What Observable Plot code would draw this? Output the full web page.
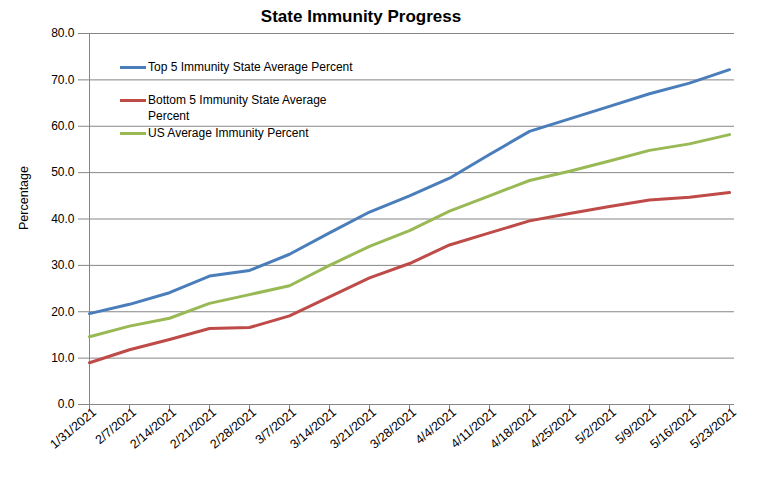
<!DOCTYPE html>
<html>
<head>
<meta charset="utf-8">
<script src="https://cdn.jsdelivr.net/npm/d3@7"></script>
<script src="https://cdn.jsdelivr.net/npm/@observablehq/plot@0.6"></script>
<style>
  body { margin: 0; background: #fff; }
  #wrap { position: relative; width: 761px; height: 479px; font-family: "Liberation Sans", Arial, sans-serif; }
  #title { position: absolute; left: 0; width: 722px; top: 7px; text-align: center; font-weight: bold; font-size: 17px; color: #000; }
  #ylab { position: absolute; left: 24px; top: 198px; transform: translate(-50%, -50%) rotate(-90deg); font-size: 12.5px; white-space: nowrap; }
  .leg { position: absolute; left: 120px; font-size: 12px; line-height: 16px; color: #000; }
  .leg span.sw { position: absolute; left: 0; top: 7px; width: 26px; height: 3px; }
  .leg span.tx { display: block; margin-left: 28px; white-space: nowrap; }
</style>
</head>
<body>
<div id="wrap">
  <div id="title">State Immunity Progress</div>
  <div id="ylab">Percentage</div>
  <div id="legend"></div>
</div>
<script>
const dates = ["1/31/2021","2/7/2021","2/14/2021","2/21/2021","2/28/2021","3/7/2021","3/14/2021","3/21/2021","3/28/2021","4/4/2021","4/11/2021","4/18/2021","4/25/2021","5/2/2021","5/9/2021","5/16/2021","5/23/2021"];
const top5    = [19.6, 21.6, 24.1, 27.7, 28.9, 32.4, 37.0, 41.5, 45.0, 48.8, 53.9, 58.9, 61.6, 64.3, 67.0, 69.3, 72.2];
const bottom5 = [9.0, 11.8, 14.0, 16.4, 16.6, 19.1, 23.2, 27.3, 30.4, 34.4, 37.0, 39.6, 41.2, 42.7, 44.1, 44.7, 45.7];
const usAvg   = [14.6, 16.9, 18.6, 21.8, 23.7, 25.6, 30.0, 34.1, 37.5, 41.7, 45.0, 48.3, 50.3, 52.5, 54.8, 56.2, 58.2];
const seriesNames = ["Top 5 Immunity State Average Percent", "Bottom 5 Immunity State Average Percent", "US Average Immunity Percent"];
const seriesColors = ["#4A7EBB", "#BE4B48", "#98B954"];
const yTicks = [0, 10, 20, 30, 40, 50, 60, 70, 80];

const rows = [];
[top5, bottom5, usAvg].forEach((arr, si) => {
  arr.forEach((v, i) => rows.push({date: dates[i], value: v, series: seriesNames[si]}));
});

const gray = "#868686";
const chart = Plot.plot({
  width: 761,
  height: 479,
  marginLeft: 84,
  marginRight: 27,
  marginTop: 33,
  marginBottom: 75,
  style: { fontFamily: "Liberation Sans, Arial, sans-serif", background: "#fff", color: "#000" },
  x: { type: "point", domain: dates, padding: 0 },
  y: { domain: [0, 80] },
  color: { domain: seriesNames, range: seriesColors },
  marks: [
    Plot.ruleY(yTicks, { stroke: gray, strokeWidth: 1, strokeOpacity: 1 }),
    Plot.ruleX([dates[0]], { stroke: gray, strokeWidth: 1 }),
    Plot.axisY({ ticks: yTicks, tickFormat: d => d.toFixed(1), tickSize: 6, tickPadding: 4, stroke: gray, fontSize: 12, label: null }),
    Plot.axisX({ tickSize: 5, tickFormat: () => "", stroke: gray, label: null }),
    Plot.axisX({ tickSize: 0, tickRotate: -40, tickPadding: 6, dx: 5, fontSize: 12.5, label: null }),
    Plot.line(rows, { x: "date", y: "value", z: "series", stroke: "series", strokeWidth: 3, strokeLinejoin: "round" })
  ]
});
chart.style.position = "absolute";
chart.style.left = "0";
chart.style.top = "0";
const wrap = document.getElementById("wrap");
wrap.insertBefore(chart, wrap.firstChild);

const legTops = [59, 92, 125];
const legText = ["Top 5 Immunity State Average Percent", "Bottom 5 Immunity State Average<br>Percent", "US Average Immunity Percent"];
const legend = document.getElementById("legend");
seriesNames.forEach((name, i) => {
  const d = document.createElement("div");
  d.className = "leg";
  d.style.top = legTops[i] + "px";
  d.innerHTML = `<span class="sw" style="background:${seriesColors[i]}"></span><span class="tx">${legText[i]}</span>`;
  legend.appendChild(d);
});
</script>
</body>
</html>
